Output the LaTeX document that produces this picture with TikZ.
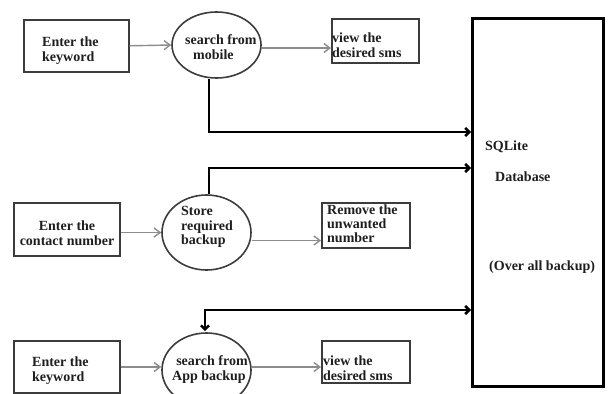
\documentclass[tikz,border=0pt]{standalone}
\usepackage{fontspec}
\setmainfont{Liberation Serif}
\usetikzlibrary{arrows.meta,shapes.geometric}
\definecolor{boxgray}{HTML}{3C3C3C}
\definecolor{arrgray}{HTML}{8C8C8C}
\definecolor{txtcol}{HTML}{1E1E1E}
\begin{document}
\begin{tikzpicture}[x=1pt,y=-1pt,
  box/.style={draw=boxgray, line width=1.6pt, inner sep=0pt, anchor=north west},
  oval/.style={draw=boxgray, line width=1.6pt, ellipse, inner sep=0pt},
  txt/.style={font=\fontsize{14}{15}\selectfont\bfseries, align=left, inner sep=0pt, text=txtcol},
  garrow/.style={draw=arrgray, line width=1.4pt, -{Straight Barb[length=6pt,width=9pt]}},
  barrow/.style={draw=black, line width=2.6pt, -{Straight Barb[length=4pt,width=8pt]}},
  bbarrow/.style={draw=black, line width=2.6pt, {Straight Barb[length=4pt,width=8pt]}-{Straight Barb[length=4pt,width=8pt]}}]
\useasboundingbox (0,0) rectangle (609,393);
\clip (0,0) rectangle (609,393);
% database
\node[draw=black, line width=2.6pt, inner sep=0pt, anchor=north west, minimum width=131pt, minimum height=368pt] (db) at (471,17) {};
\node[txt, anchor=west] (dbt1) at (485,147) {SQLite};
\node[txt, anchor=west] (dbt2) at (495,177) {Database};
\node[txt, anchor=west] (dbt3) at (489,267) {(Over all backup)};
% top row
\node[box, minimum width=105pt, minimum height=52pt] (k1) at (23,19) {};
\node[txt, anchor=west] (k1t) at (42,51) {Enter the\\keyword};
\node[oval, minimum width=89pt, minimum height=66pt] (e1) at (216.5,45) {};
\node[txt, anchor=west] (e1t) at (185,47) {search from\\\hspace*{8pt}mobile};
\node[box, minimum width=87pt, minimum height=44pt] (v1) at (331,18) {};
\node[txt, anchor=west] (v1t) at (332,45) {view the\\desired sms};
% middle row
\node[box, minimum width=106pt, minimum height=53pt] (c2) at (13,202) {};
\node[txt, align=center] (c2t) at (67,233) {Enter the\\contact number};
\node[oval, minimum width=89pt, minimum height=75pt] (e2) at (206.5,232.5) {};
\node[txt, anchor=west, font=\fontsize{14}{14.5}\selectfont\bfseries] (e2t) at (181,227) {Store\\required\\backup};
\node[box, minimum width=88pt, minimum height=45pt] (r2) at (321,202) {};
\node[txt, anchor=west, font=\fontsize{14}{14}\selectfont\bfseries] (r2t) at (327,224) {Remove the\\unwanted\\number};
% bottom row
\node[box, minimum width=106pt, minimum height=52pt] (k3) at (13,340) {};
\node[txt, anchor=west] (k3t) at (32,371) {Enter the\\keyword};
\node[oval, minimum width=89pt, minimum height=74pt] (e3) at (206.5,370) {};
\node[txt, align=center] (e3t) at (209,370) {\hspace*{6pt}search from\\App backup};
\node[box, minimum width=88pt, minimum height=42pt] (v3) at (321,340) {};
\node[txt, anchor=west] (v3t) at (323,368) {view the\\desired sms};
% gray arrows
\draw[garrow] (k1.east) -- (e1.west);
\draw[garrow] ([yshift=-3pt]e1.east) -- ([yshift=-3pt]e1.east -| v1.west);
\draw[garrow] (c2.east |- e2.west) -- (e2.west);
\draw[garrow] ([yshift=-8pt]e2.east) -- ([yshift=-8pt]e2.east -| r2.west);
\draw[garrow] (k3.east |- 0,367) -- (e3.west |- 0,367);
\draw[garrow] (e3.east |- 0,367) -- (v3.west |- 0,367);
% thick connectors
\coordinate (t1c) at (209,132);
\coordinate (t2c) at (209,168);
\coordinate (t3c) at (205,310);
\draw[barrow] (e1.south -| t1c) -- (t1c) -- (db.west |- t1c);
\draw[barrow] (e2.north -| t2c) -- (t2c) -- (db.west |- t2c);
\draw[bbarrow] (db.west |- t3c) -- (t3c) -- ([yshift=1pt]e3.north -| t3c);
\end{tikzpicture}
\end{document}
